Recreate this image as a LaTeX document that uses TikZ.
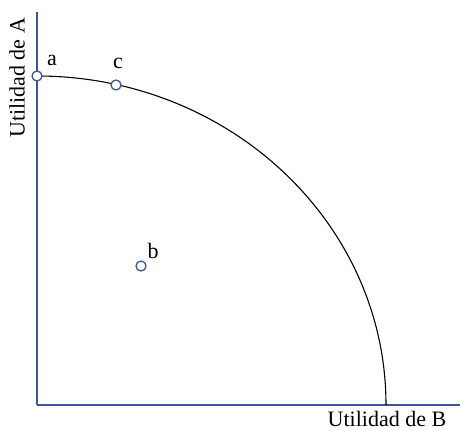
\documentclass[tikz,border=0pt]{standalone}
\usepackage{fontspec}
\setmainfont{Liberation Serif}
\usepackage{xcolor}
\usetikzlibrary{positioning,calc}
\definecolor{axisblue}{RGB}{62,84,160}

\begin{document}
\begin{tikzpicture}[x=1pt,y=-1pt,
  pt/.style={circle,draw=axisblue,fill=white,line width=1.3pt,minimum size=10pt,inner sep=0pt},
  lbl/.style={font=\fontsize{22}{26}\selectfont,inner sep=1pt}]
\useasboundingbox (0,0) rectangle (469,431);
\coordinate (O) at (37,405);
\coordinate (ytop) at (37,12);
\coordinate (xend) at (460,405);
\draw[axisblue,line width=1.8pt] (O)--(ytop);
\draw[axisblue,line width=1.3pt] (O)--(xend);
\draw[line width=1.1pt] (37,76) arc[start angle=90,end angle=0,x radius=349,y radius=-329];
\node[pt] (a) at (37,76) {};
\node[pt] (c) at (116,85) {};
\node[pt] (b) at (141,266) {};
\node[lbl] at (52,60) {a};
\node[lbl] at (118,63) {c};
\node[lbl] at (153,251) {b};
\node[lbl,rotate=90] at (17,78) {Utilidad de A};
\node[lbl] at (387,419) {Utilidad de B};
\end{tikzpicture}
\end{document}
